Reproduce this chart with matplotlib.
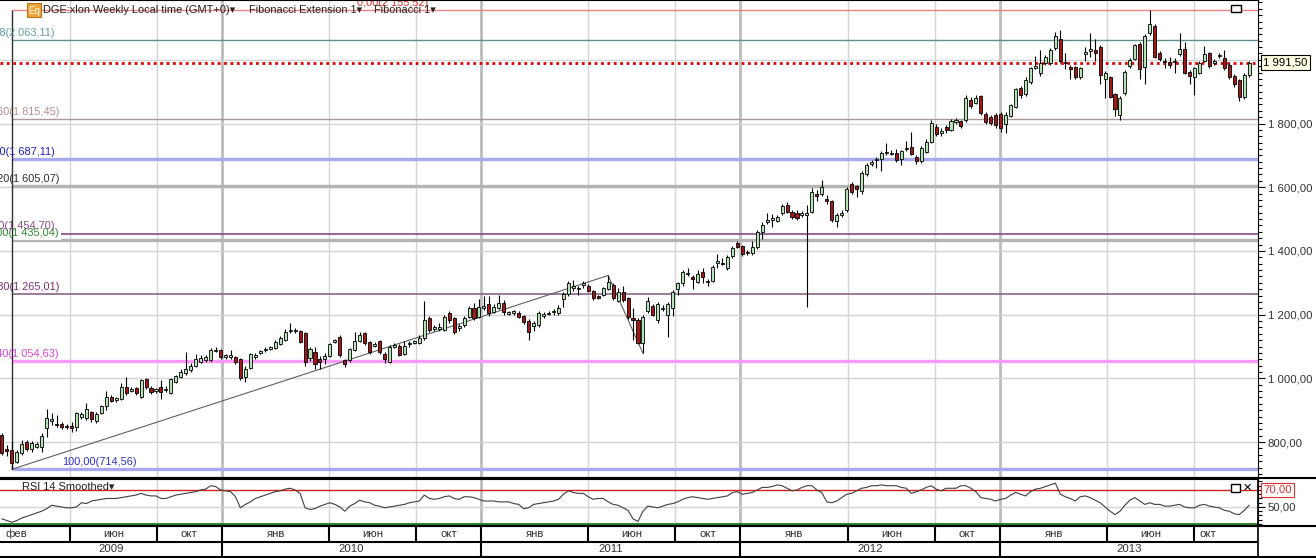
import numpy as np
import pandas as pd
import matplotlib
matplotlib.use("Agg")
import matplotlib.pyplot as plt
import matplotlib.dates as mdates
from matplotlib.lines import Line2D
from matplotlib.patches import Rectangle
from matplotlib.ticker import MultipleLocator

plt.rcParams['font.family'] = ['Liberation Sans', 'DejaVu Sans']

# weekly bars DGE:xlon (pence)
opens = [822, 778, 775, 738, 767, 801, 777, 786, 786, 843,
         866, 858, 858, 850, 849, 848, 878, 875, 893, 867,
         892, 913, 942, 931, 934, 972, 961, 969, 942, 997,
         969, 960, 972, 962, 953, 990, 1005, 1018, 1026, 1040,
         1052, 1058, 1058, 1086, 1089, 1068, 1068, 1066, 1060, 1003,
         1033, 1067, 1080, 1088, 1093, 1096, 1108, 1120, 1148, 1148,
         1149, 1141, 1063, 1084, 1060, 1060, 1071, 1114, 1131, 1058,
         1058, 1089, 1117, 1143, 1113, 1103, 1117, 1078, 1052, 1100,
         1103, 1076, 1107, 1111, 1112, 1126, 1188, 1156, 1154, 1152,
         1204, 1188, 1158, 1167, 1194, 1222, 1194, 1222, 1232, 1209,
         1222, 1237, 1202, 1206, 1204, 1197, 1181, 1165, 1167, 1197,
         1202, 1207, 1204, 1248, 1264, 1283, 1279, 1294, 1291, 1274,
         1258, 1262, 1280, 1293, 1243, 1270, 1251, 1188, 1183, 1110,
         1212, 1227, 1183, 1218, 1199, 1220, 1280, 1298, 1328, 1318,
         1303, 1335, 1306, 1307, 1363, 1362, 1348, 1385, 1424, 1415,
         1393, 1392, 1411, 1460, 1490, 1497, 1495, 1518, 1544, 1521,
         1518, 1512, 1514, 1523, 1578, 1579, 1563, 1557, 1494, 1512,
         1528, 1609, 1604, 1589, 1640, 1674, 1684, 1688, 1706, 1704,
         1708, 1688, 1720, 1727, 1696, 1682, 1712, 1741, 1788, 1770,
         1790, 1780, 1806, 1809, 1811, 1874, 1865, 1886, 1830, 1822,
         1827, 1830, 1798, 1824, 1853, 1913, 1893, 1931, 1975, 1960,
         1989, 1991, 2036, 2064, 1990, 1976, 1976, 1945, 2019, 2027,
         2030, 2039, 1939, 1945, 1892, 1827, 1897, 1981, 2004, 2051,
         1978, 2083, 2106, 2022, 1995, 1994, 1993, 2018, 2033, 1963,
         1945, 1960, 1997, 2020, 1990, 2012, 2005, 1984, 1949, 1937, 1882, 1952]
closes = [767, 772, 733, 770, 794, 777, 798, 795, 819, 875,
          873, 853, 846, 846, 843, 892, 888, 903, 871, 887,
          913, 940, 929, 937, 972, 953, 966, 953, 995, 972,
          956, 966, 956, 968, 997, 1007, 1021, 1031, 1040, 1060,
          1063, 1068, 1089, 1090, 1066, 1072, 1072, 1052, 1000, 1031,
          1075, 1073, 1085, 1092, 1098, 1115, 1126, 1145, 1152, 1152,
          1115, 1052, 1091, 1046, 1052, 1071, 1108, 1120, 1073, 1044,
          1092, 1117, 1136, 1110, 1082, 1108, 1082, 1061, 1100, 1104,
          1073, 1103, 1112, 1116, 1128, 1183, 1152, 1162, 1160, 1194,
          1183, 1147, 1165, 1188, 1220, 1188, 1225, 1228, 1204, 1225,
          1238, 1209, 1208, 1210, 1192, 1178, 1147, 1173, 1204, 1201,
          1206, 1211, 1222, 1264, 1298, 1289, 1284, 1298, 1274, 1251,
          1253, 1283, 1303, 1251, 1272, 1246, 1194, 1183, 1112, 1194,
          1244, 1199, 1235, 1222, 1232, 1272, 1298, 1333, 1332, 1313,
          1328, 1319, 1301, 1351, 1367, 1358, 1380, 1408, 1413, 1390,
          1397, 1413, 1460, 1483, 1496, 1502, 1506, 1542, 1523, 1508,
          1502, 1518, 1518, 1584, 1574, 1600, 1557, 1497, 1513, 1518,
          1593, 1586, 1594, 1644, 1670, 1680, 1690, 1708, 1712, 1709,
          1685, 1715, 1724, 1704, 1683, 1722, 1743, 1801, 1766, 1775,
          1780, 1809, 1810, 1792, 1879, 1855, 1881, 1834, 1806, 1801,
          1795, 1785, 1827, 1858, 1907, 1889, 1937, 1973, 1980, 1989,
          2010, 2031, 2075, 1997, 1994, 1972, 1947, 1973, 2025, 2033,
          2020, 1952, 1958, 1884, 1844, 1879, 1963, 2000, 2046, 1970,
          2075, 2112, 2010, 2004, 1992, 1984, 1997, 2033, 1960, 1949,
          1973, 1989, 2018, 1980, 1996, 2015, 1973, 1945, 1924, 1882, 1952, 1991.5]
highs = [830, 790, 801, 775, 806, 808, 803, 800, 827, 904,
         890, 885, 862, 856, 864, 893, 895, 922, 898, 893,
         918, 961, 948, 940, 984, 1003, 972, 974, 998, 1000,
         975, 970, 995, 975, 1000, 1012, 1028, 1083, 1048, 1077,
         1072, 1073, 1095, 1100, 1093, 1078, 1090, 1070, 1063, 1040,
         1080, 1080, 1090, 1098, 1102, 1120, 1132, 1156, 1175, 1158,
         1152, 1145, 1100, 1098, 1070, 1080, 1112, 1125, 1135, 1062,
         1096, 1146, 1145, 1146, 1118, 1115, 1122, 1082, 1105, 1110,
         1108, 1118, 1116, 1120, 1136, 1243, 1195, 1166, 1175, 1200,
         1210, 1192, 1172, 1195, 1228, 1236, 1250, 1260, 1260, 1232,
         1262, 1245, 1212, 1215, 1210, 1200, 1185, 1180, 1210, 1208,
         1212, 1218, 1230, 1270, 1306, 1310, 1290, 1305, 1296, 1278,
         1262, 1288, 1323, 1300, 1285, 1290, 1256, 1220, 1188, 1200,
         1255, 1232, 1240, 1230, 1240, 1278, 1303, 1340, 1345, 1325,
         1340, 1345, 1312, 1356, 1390, 1378, 1388, 1415, 1432, 1420,
         1402, 1430, 1465, 1490, 1520, 1515, 1512, 1548, 1555, 1530,
         1528, 1525, 1545, 1598, 1590, 1623, 1576, 1560, 1520, 1530,
         1602, 1615, 1608, 1650, 1676, 1684, 1694, 1715, 1740, 1718,
         1720, 1718, 1745, 1772, 1700, 1728, 1750, 1810, 1800, 1785,
         1795, 1815, 1818, 1812, 1888, 1882, 1888, 1890, 1835, 1828,
         1832, 1835, 1835, 1862, 1912, 1918, 1945, 1978, 2012, 2030,
         2015, 2036, 2088, 2095, 2020, 1985, 1980, 1978, 2040, 2083,
         2065, 2045, 1965, 1950, 1896, 1885, 1968, 2005, 2050, 2055,
         2080, 2155.5, 2112, 2028, 2005, 2010, 2005, 2085, 2055, 1968,
         1978, 1995, 2042, 2025, 2002, 2022, 2030, 1990, 1955, 1940, 1960, 1995]
lows = [760, 755, 715, 733, 760, 772, 770, 780, 770, 815,
        853, 848, 842, 840, 833, 836, 873, 869, 864, 860,
        888, 901, 926, 926, 932, 948, 958, 948, 939, 968,
        950, 955, 934, 958, 950, 985, 1000, 1012, 1020, 1035,
        1048, 1050, 1052, 1082, 1060, 1060, 1062, 1045, 994, 990,
        1028, 1062, 1076, 1084, 1090, 1093, 1104, 1117, 1143, 1143,
        1112, 1040, 1055, 1030, 1030, 1045, 1068, 1110, 1068, 1035,
        1052, 1085, 1113, 1105, 1076, 1098, 1075, 1048, 1048, 1096,
        1070, 1072, 1100, 1108, 1108, 1120, 1145, 1150, 1148, 1148,
        1175, 1140, 1150, 1162, 1190, 1184, 1190, 1215, 1196, 1205,
        1218, 1200, 1198, 1200, 1188, 1172, 1120, 1150, 1162, 1190,
        1198, 1200, 1200, 1225, 1260, 1275, 1262, 1285, 1270, 1245,
        1248, 1258, 1276, 1245, 1240, 1240, 1185, 1120, 1108, 1079,
        1205, 1195, 1175, 1210, 1130, 1195, 1262, 1290, 1320, 1280,
        1298, 1300, 1290, 1302, 1345, 1355, 1340, 1378, 1408, 1385,
        1388, 1388, 1405, 1436, 1485, 1475, 1490, 1512, 1518, 1500,
        1498, 1508, 1225, 1518, 1558, 1573, 1548, 1492, 1476, 1508,
        1522, 1580, 1568, 1578, 1634, 1668, 1660, 1650, 1700, 1700,
        1680, 1670, 1715, 1700, 1672, 1676, 1708, 1738, 1760, 1762,
        1770, 1775, 1800, 1785, 1805, 1850, 1860, 1828, 1800, 1795,
        1785, 1772, 1770, 1820, 1848, 1880, 1885, 1925, 1970, 1950,
        1985, 1985, 2030, 1990, 1972, 1940, 1940, 1940, 1997, 2010,
        1995, 1923, 1880, 1880, 1823, 1812, 1890, 1975, 1998, 1940,
        1925, 2078, 2005, 1996, 1975, 1975, 1960, 2012, 1955, 1925,
        1890, 1955, 1992, 1975, 1985, 2005, 1968, 1940, 1915, 1870, 1878, 1945]
# RSI 14 smoothed, one value per bar
rsi = [36, 34, 32, 34, 37, 39, 41, 43, 45, 48,
       52, 51, 50, 49, 49, 50, 55, 54, 57, 58,
       59, 60, 60, 60, 61, 62, 63, 64, 66, 64,
       63, 63, 60, 60, 62, 64, 65, 66, 67, 68,
       70, 71, 75, 74, 70, 69, 68, 62, 49, 53,
       56, 60, 62, 64, 66, 68, 69, 71, 72, 70,
       66, 49, 47, 48, 51, 53, 55, 53, 50, 45,
       51, 54, 58, 56, 55, 52, 51, 49, 50, 51,
       52, 53, 55, 56, 57, 64, 60, 59, 60, 62,
       63, 60, 59, 62, 62, 61, 59, 57, 57, 57,
       56, 56, 56, 54, 53, 48, 49, 53, 54, 55,
       56, 57, 59, 65, 69, 67, 66, 66, 62, 59,
       60, 60, 56, 53, 52, 49, 46, 36, 33, 45,
       51, 50, 49, 51, 53, 54, 56, 59, 61, 62,
       61, 60, 59, 60, 61, 62, 63, 67, 68, 65,
       66, 67, 70, 73, 73, 74, 76, 75, 72, 69,
       70, 73, 75, 75, 70, 67, 56, 55, 57, 61,
       65, 66, 69, 72, 73, 75, 75, 76, 75, 75,
       75, 73, 72, 66, 68, 70, 73, 75, 71, 69,
       72, 72, 72, 75, 75, 72, 68, 61, 60, 59,
       57, 59, 60, 64, 67, 65, 63, 68, 71, 72,
       74, 76, 78, 65, 62, 60, 57, 62, 63, 61,
       58, 55, 50, 45, 41, 45, 52, 58, 61, 57,
       53, 55, 53, 53, 51, 51, 52, 53, 50, 49,
       49, 52, 53, 51, 50, 49, 46, 45, 42, 41, 46, 52]
first_bar = "2009-02-25"

# Fibonacci 1 (retracement) and Fibonacci Extension 1
ret_pct = ["0,00", "23,60", "38,20", "50,00", "61,80", "76,40", "100,00"]
ret_price = [2155.52, 1815.45, 1605.07, 1435.04, 1265.01, 1054.63, 714.56]
ext_pct = ["161,8", "100,00", "61,80"]
ext_price = [2063.11, 1687.11, 1454.70]
ext_bars = [2, 122, 129]
ext_points = [714.56, 1322.96, 1078.71]
last_price = 1991.50

month_names = ["фев", "июн", "окт", "янв", "июн", "окт", "янв", "июн", "окт",
               "янв", "июн", "окт", "янв", "июн", "окт"]
month_bounds = ["2009-06-01", "2009-10-01", "2010-01-01", "2010-06-01", "2010-10-01",
                "2011-01-01", "2011-06-01", "2011-10-01", "2012-01-01", "2012-06-01",
                "2012-10-01", "2013-01-01", "2013-06-01", "2013-10-01"]
year_names = ["2009", "2010", "2011", "2012", "2013"]


def fmt(v):
    return f"{v:,.2f}".replace(",", " ").replace(".", ",")


o, h, l, c = (np.array(a, dtype=float) for a in (opens, highs, lows, closes))
x = mdates.date2num(pd.date_range(first_bar, periods=len(closes), freq="7D"))
ref = mdates.date2num(pd.Timestamp("2010-01-01"))
ppd = 778 / 1096.0  # pixels per day
xmin, xmax = ref - 222 / ppd, ref + 1036 / ppd
mb = mdates.date2num(pd.to_datetime(month_bounds))
jan = [b for b, d in zip(mb, month_bounds) if d.endswith("01-01")]

W, H, PW = 1316, 558, 1258
fig = plt.figure(figsize=(W / 100, H / 100), dpi=100)


def box(top, bottom):
    return [0, 1 - bottom / H, PW / W, (bottom - top) / H]


ax = fig.add_axes(box(0, 478))
axr = fig.add_axes(box(479, 526))
axt = fig.add_axes(box(526, 557))
TXT = '#333333'
FS = 7.9

for a in (ax, axr):
    a.set_xlim(xmin, xmax)
    a.set_facecolor('white')
    a.spines['left'].set_visible(False)
    for s in ('right', 'top', 'bottom'):
        a.spines[s].set_color('black')
    a.set_xticks([])
    a.yaxis.tick_right()
    a.tick_params(axis='y', which='major', length=5, width=0.8, colors='black',
                  labelsize=8.2, labelcolor=TXT, pad=2)
    a.tick_params(axis='y', which='minor', length=3, width=0.8, colors='black')
    for b in mb:
        isj = b in jan
        a.axvline(b, color='#bcbcbc' if isj else '#d4d4d4', lw=2 if isj else 1, zorder=0)
ax.spines['bottom'].set_linewidth(1.5)

# main price panel
ax.set_ylim(687.3, 2187.7)
ax.set_yticks(range(800, 1801, 200))
ax.set_yticklabels([fmt(v) for v in range(800, 1801, 200)])
ax.yaxis.set_minor_locator(MultipleLocator(20))
for v in range(800, 2001, 200):
    ax.axhline(v, color='#d4d4d4', lw=1, zorder=0)

ret_col = ['#f08080', '#a89898', '#b4b4b4', '#b4b4b4', '#886688', '#ff99ff', '#a8a8ee']
ret_lw = [1, 1, 2.4, 2.4, 1.2, 2.4, 2.4]
ret_tcol = ['#e83030', '#bc8f8f', '#303030', '#2e8b2e', '#803070', '#e040e0', '#3030c8']
ext_col = ['#5f8f8f', '#a8a8ee', '#8a4a8a']
ext_lw = [1, 2.4, 1.2]
ext_tcol = ['#5f9ea0', '#2020c0', '#8a4a8a']
ytr = ax.get_yaxis_transform()

for p, lc, lw in zip(ext_price, ext_col, ext_lw):
    ax.hlines(p, x[ext_bars[0]], xmax, color=lc, lw=lw, zorder=1)
for p, lc, lw in zip(ret_price, ret_col, ret_lw):
    ax.hlines(p, x[ext_bars[0]], xmax, color=lc, lw=lw, zorder=1)

for pct, p, tc in zip(ext_pct, ext_price, ext_tcol):
    ax.annotate(f"{pct}({fmt(p)})", (55 / PW, p), xycoords=ytr, xytext=(0, 1.5),
                textcoords='offset points', ha='right', va='bottom', color=tc,
                fontsize=FS, annotation_clip=False)
for i, (pct, p, tc) in enumerate(zip(ret_pct, ret_price, ret_tcol)):
    if i == 0:
        xa, ha = 357 / PW, 'left'
    elif i == len(ret_pct) - 1:
        xa, ha = 62 / PW, 'left'
    else:
        xa, ha = 59 / PW, 'right'
    bb = dict(facecolor='white', edgecolor='none', pad=1.5) if pct == "50,00" else None
    ax.annotate(f"{pct}({fmt(p)})", (xa, p), xycoords=ytr, xytext=(0, 1.5),
                textcoords='offset points', ha=ha, va='bottom', color=tc,
                fontsize=FS, bbox=bb, annotation_clip=False, zorder=2)

ax.vlines(x[ext_bars[0]], ret_price[-1], ret_price[0], color='#303030', lw=1, zorder=2)
ax.plot(x[ext_bars], ext_points, color='#606060', lw=0.8, zorder=2)
ax.axhline(last_price, color='#e00000', lw=2, ls=(0, (1, 1.3)), zorder=2)

up = c >= o
ax.vlines(x, l, h, color='black', lw=0.8, zorder=3)
ax.bar(x, np.maximum(np.abs(c - o), 3), bottom=np.minimum(o, c), width=4.3,
       color=np.where(up, '#b4e3b4', '#a01818'), edgecolor='black', lw=0.6, zorder=4)

ax.text(1.004, last_price, fmt(last_price), transform=ytr, ha='left', va='center',
        fontsize=8.2, color='black',
        bbox=dict(facecolor='#ffffe4', edgecolor='black', lw=0.8, pad=1.6))

# RSI panel
axr.set_ylim(27.6, 82.9)
axr.set_yticks([50])
axr.set_yticklabels([fmt(50)])
axr.yaxis.set_minor_locator(MultipleLocator(5))
axr.axhline(50, color='#d4d4d4', lw=1, zorder=0)
axr.axhline(70, color='#d02020', lw=1, zorder=1)
axr.axhline(30, color='#1f7a1f', lw=1.3, zorder=1)
axr.plot(x, rsi, color='#404040', lw=0.8, zorder=3)
axr.spines['bottom'].set_linewidth(1.5)
axr.text(22 / PW, 0.82, "RSI 14 Smoothed▾", transform=axr.transAxes, ha='left',
         va='center', fontsize=FS, color='#222222')
axr.text(1.004, 70, fmt(70), transform=axr.get_yaxis_transform(), ha='left',
         va='center', fontsize=8.2, color='#e03030',
         bbox=dict(facecolor='white', edgecolor='#e03030', lw=0.8, pad=1.4))

# time scale: month row and year row
axt.set_xlim(xmin, xmax)
axt.set_ylim(0, 31)
axt.axis('off')
axt.hlines(15.5, xmin, xmax, color='black', lw=1.5)
axt.vlines(mb, 15.5, 31, color='black', lw=1.5)
axt.vlines(jan, 0, 15.5, color='black', lw=1.5)
edges = [xmin] + list(mb) + [xmax]
for k, name in enumerate(month_names):
    a, b = edges[k], edges[k + 1]
    if k == 0 or k == len(month_names) - 1:
        axt.text(a + 6 / ppd, 23.2, name, ha='left', va='center', fontsize=8.2, color=TXT)
    else:
        axt.text((a + b) / 2, 23.2, name, ha='center', va='center', fontsize=8.2, color=TXT)
yedges = [xmin] + list(jan) + [xmax]
for k, name in enumerate(year_names):
    axt.text((yedges[k] + yedges[k + 1]) / 2, 7.5, name, ha='center', va='center',
             fontsize=8.2, color=TXT)

# frame lines across the whole figure


def hline_px(y, x0=0, x1=W, lw=1.5):
    fig.add_artist(Line2D([x0 / W, x1 / W], [1 - y / H] * 2, transform=fig.transFigure,
                          color='black', lw=lw))


hline_px(478.3)
hline_px(526)
hline_px(557)
fig.add_artist(Line2D([PW / W] * 2, [1 - 557 / H, 1 - 478 / H], transform=fig.transFigure,
                      color='black', lw=1.2))

# header
fig.patches.append(Rectangle((27 / W, 1 - 17 / H), 14 / W, 14 / H, transform=fig.transFigure,
                             facecolor='#eba53a', edgecolor='#b8741a', lw=0.8))
fig.text(34 / W, 1 - 10.5 / H, "Eq", ha='center', va='center', fontsize=7, color='#fff6dc')
fig.text(43 / W, 1 - 10 / H, "DGE:xlon Weekly Local time (GMT+0)▾", ha='left', va='center',
         fontsize=FS, color='#222222')
fig.text(249 / W, 1 - 10 / H, "Fibonacci Extension 1▾", ha='left', va='center',
         fontsize=FS, color='#222222')
fig.text(374 / W, 1 - 10 / H, "Fibonacci 1▾", ha='left', va='center',
         fontsize=FS, color='#222222')

# window buttons
fig.patches.append(Rectangle((1231 / W, 1 - 12 / H), 10 / W, 7 / H, transform=fig.transFigure,
                             facecolor='white', edgecolor='black', lw=1))
fig.patches.append(Rectangle((1231 / W, 1 - 492 / H), 9 / W, 8 / H, transform=fig.transFigure,
                             facecolor='white', edgecolor='black', lw=1))
fig.text(1247 / W, 1 - 488 / H, "✕", ha='center', va='center', fontsize=8,
         fontweight='bold', family='DejaVu Sans', color='black')

fig.savefig("out.png", dpi=100, facecolor='white')
